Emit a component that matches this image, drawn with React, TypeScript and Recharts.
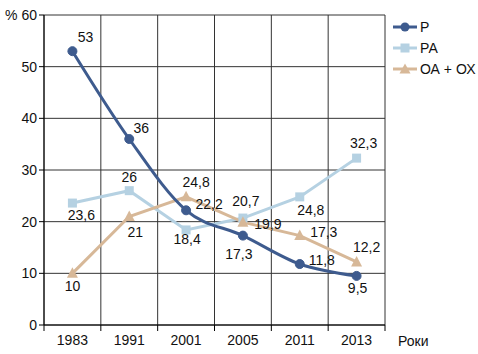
import { LineChart, Line, XAxis, YAxis, CartesianGrid, LabelList } from "recharts";

const years = ["1983", "1991", "2001", "2005", "2011", "2013"];
const pValues = [53, 36, 22.2, 17.3, 11.8, 9.5];
const paValues = [23.6, 26, 18.4, 20.7, 24.8, 32.3];
const oaValues = [10, 21, 24.8, 19.9, 17.3, 12.2];
const yTicks = [0, 10, 20, 30, 40, 50, 60];
const bandEdges = [0, 1, 2, 3, 4, 5, 6];

// label offsets (dx, dy) relative to each point
const pOffsets = [[13, -14], [12, -11], [23, -6], [-4, 18], [22, -4], [1, 12]];
const paOffsets = [[9, 12], [0, -14], [1, 9], [3, -17], [11, 13], [7, -15]];
const oaOffsets = [[0, 13], [6, 15], [10, -15], [25, 2], [24, -4], [10, -15]];

const data = years.map((year, i) => ({
  x: i + 0.5,
  year,
  p: pValues[i],
  pa: paValues[i],
  oa: oaValues[i],
}));

const font = "'Liberation Sans', Arial, sans-serif";
const C_P = "#3e5b8e";
const C_PA = "#b5d1e2";
const C_OA = "#d7b898";

const fmt = (v: number) => String(v).replace(".", ",");

function makeLabel(offsets: number[][]) {
  return (props: any) => {
    const { x, y, value, index } = props;
    const [dx, dy] = offsets[index];
    return (
      <text x={x + dx} y={y + dy} textAnchor="middle" dominantBaseline="central" fontSize={14} fill="#111" fontFamily={font}>
        {fmt(value)}
      </text>
    );
  };
}

const Square = (props: any) => {
  const { cx, cy } = props;
  return <rect x={cx - 4.5} y={cy - 4.5} width={9} height={9} fill={C_PA} />;
};

const Triangle = (props: any) => {
  const { cx, cy } = props;
  return <polygon points={`${cx},${cy - 6} ${cx + 5.5},${cy + 4.5} ${cx - 5.5},${cy + 4.5}`} fill={C_OA} />;
};

const legendItems = [
  { name: "Р", color: C_P, icon: "circle" },
  { name: "РА", color: C_PA, icon: "square" },
  { name: "ОА + ОХ", color: C_OA, icon: "triangle" },
];

export default function App() {
  return (
    <div style={{ position: "absolute", left: 0, top: 0, width: 478, height: 354, background: "#fff", fontFamily: font }}>
      <LineChart width={478} height={354} data={data} margin={{ top: 15, right: 93, left: 0, bottom: 0 }}>
        <CartesianGrid stroke="#333" strokeWidth={1} xAxisId="grid" />
        <XAxis
          xAxisId="grid"
          type="number"
          dataKey="x"
          domain={[0, 6]}
          ticks={bandEdges}
          interval={0}
          tickFormatter={() => ""}
          tickSize={6}
          stroke="#000"
          height={6}
        />
        <XAxis
          xAxisId="main"
          type="number"
          dataKey="x"
          domain={[0, 6]}
          ticks={data.map((d) => d.x)}
          interval={0}
          tickFormatter={(v) => years[Math.floor(v)]}
          axisLine={false}
          tickLine={false}
          tickSize={0}
          tick={{ fill: "#111", fontSize: 14, fontFamily: font }}
          tickMargin={4}
          height={23}
        />
        <YAxis
          domain={[0, 60]}
          ticks={yTicks}
          width={44}
          stroke="#000"
          tickSize={5}
          tick={{ fill: "#111", fontSize: 14, fontFamily: font }}
          tickFormatter={(v) => (v === 60 ? "% 60" : String(v))}
        />
        {/* invisible series so the grid axis gets a scale */}
        <Line xAxisId="grid" dataKey="p" stroke="none" dot={false} activeDot={false} legendType="none" isAnimationActive={false} />
        <Line xAxisId="main" type="linear" dataKey="pa" stroke={C_PA} strokeWidth={3} dot={<Square />} isAnimationActive={false}>
          <LabelList dataKey="pa" content={makeLabel(paOffsets)} />
        </Line>
        <Line xAxisId="main" type="linear" dataKey="oa" stroke={C_OA} strokeWidth={3} dot={<Triangle />} isAnimationActive={false}>
          <LabelList dataKey="oa" content={makeLabel(oaOffsets)} />
        </Line>
        <Line xAxisId="main" type="monotone" dataKey="p" stroke={C_P} strokeWidth={3} dot={{ r: 4.5, fill: C_P, stroke: C_P, strokeWidth: 1 }} isAnimationActive={false}>
          <LabelList dataKey="p" content={makeLabel(pOffsets)} />
        </Line>
      </LineChart>
      <div style={{ position: "absolute", left: 398, top: 333, fontSize: 14, color: "#111", lineHeight: "16px" }}>Роки</div>
      <div style={{ position: "absolute", left: 393, top: 16 }}>
        {legendItems.map((it) => (
          <div key={it.name} style={{ display: "flex", alignItems: "center", height: 21, fontSize: 14, color: "#111", whiteSpace: "nowrap" }}>
            <svg width={24} height={14} style={{ marginRight: 3 }}>
              <line x1={0} y1={7} x2={24} y2={7} stroke={it.color} strokeWidth={3} />
              {it.icon === "circle" && <circle cx={12} cy={7} r={4.5} fill={it.color} />}
              {it.icon === "square" && <rect x={7.5} y={2.5} width={9} height={9} fill={it.color} />}
              {it.icon === "triangle" && <polygon points="12,1.5 17.5,11.5 6.5,11.5" fill={it.color} />}
            </svg>
            <span>{it.name}</span>
          </div>
        ))}
      </div>
    </div>
  );
}
